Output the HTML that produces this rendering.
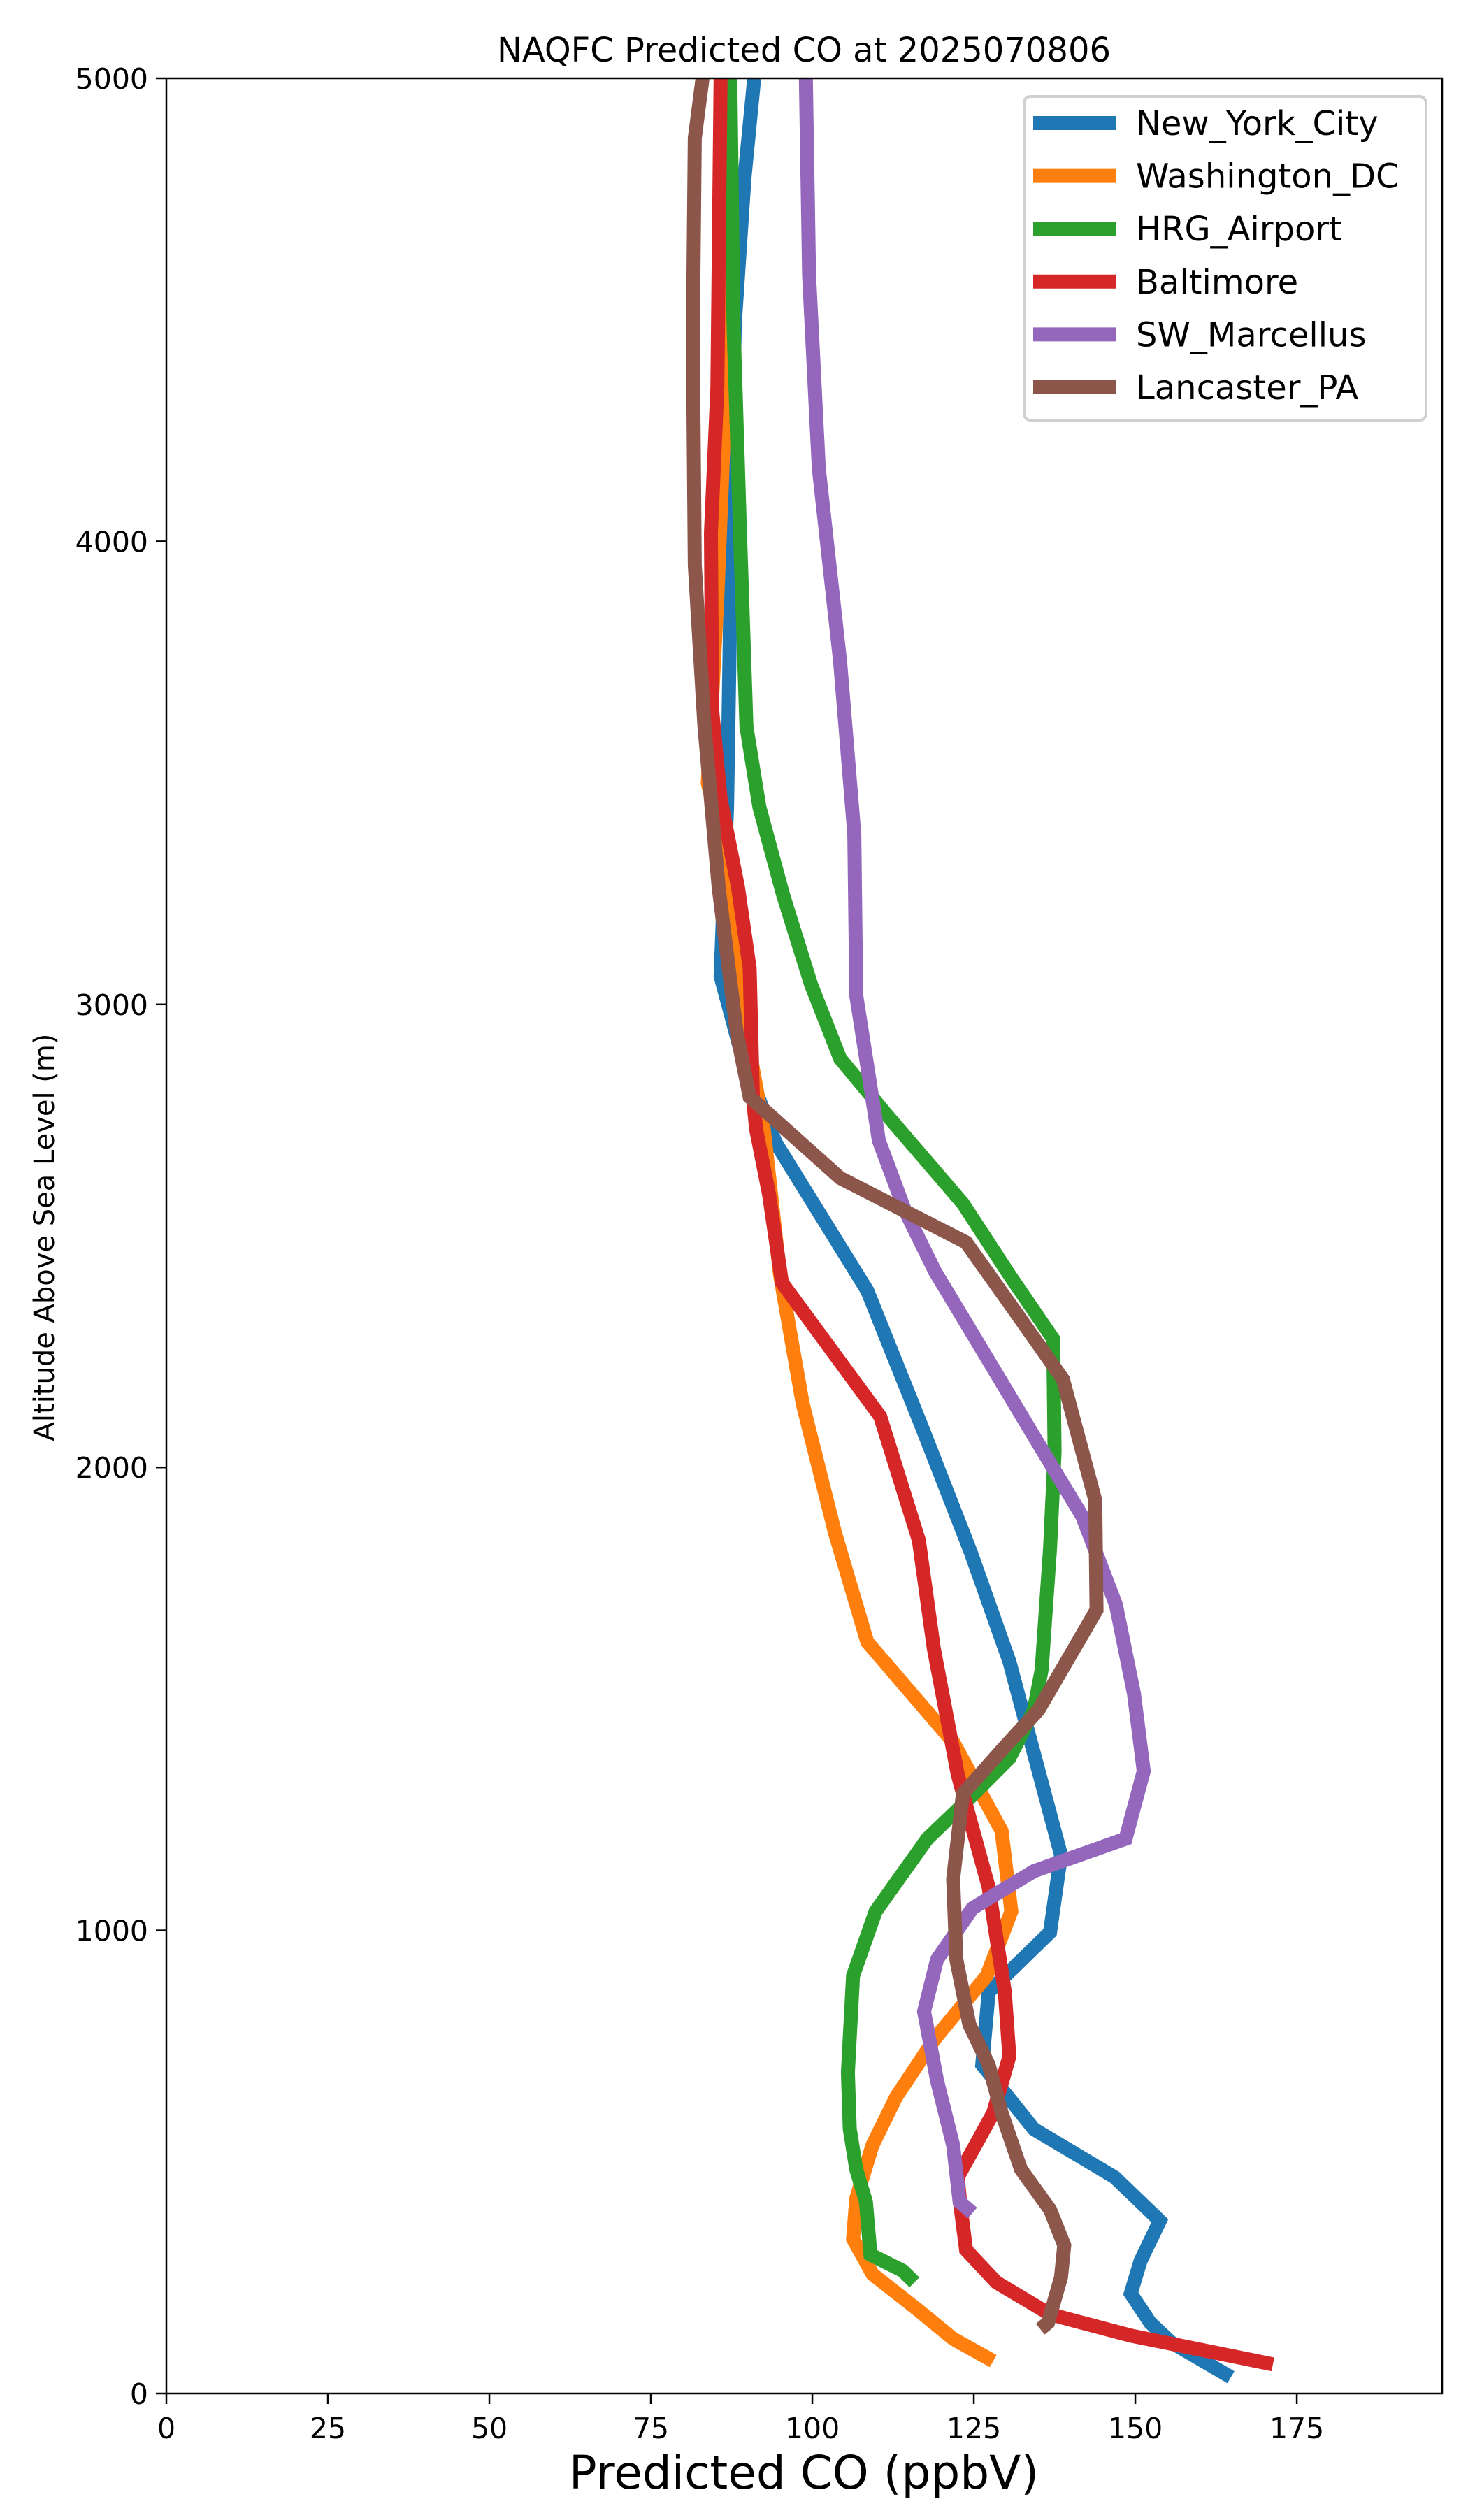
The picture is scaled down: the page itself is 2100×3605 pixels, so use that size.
<!DOCTYPE html>
<html><head><meta charset="utf-8">
<style>
html,body{margin:0;padding:0;background:#fff;}
svg text{font-family:"DejaVu Sans","Liberation Sans",sans-serif;fill:#000;}
</style></head>
<body>
<svg id="chart" width="2100" height="3600" viewBox="0 0 2100 3600" xmlns="http://www.w3.org/2000/svg">
<rect x="0" y="0" width="2100" height="3600" fill="#fff"/>
<text x="1150" y="88" font-size="48" text-anchor="middle">NAQFC Predicted CO at 2025070806</text>
<g id="plot"></g>
<text x="1150" y="3560" font-size="66" text-anchor="middle">Predicted CO (ppbV)</text>
<text x="0" y="0" font-size="40" text-anchor="middle" transform="translate(77,1770) rotate(-90)">Altitude Above Sea Level (m)</text>
</svg>
<script>
const seriesNames = ["New_York_City","Washington_DC","HRG_Airport","Baltimore","SW_Marcellus","Lancaster_PA"];
const seriesColors = ["#1f77b4","#ff7f0e","#2ca02c","#d62728","#9467bd","#8c564b"];
const xTicks = [0,25,50,75,100,125,150,175];
const yTicks = [0,1000,2000,3000,4000,5000];
const nycCO = [91,89.5,88,87.5,87.2,86.8,85.8,88.8,94.3,108.5,117,124.5,130.5,134.5,138.5,136.8,127.3,126.3,134.3,146.8,153.8,150.8,149.3,152.3,155.5,164.8];
const nycAlt = [5000,4785,4470,4123,3775,3426,3061,2904,2702,2382,2086,1818,1581,1372,1163,996,867,710,571,467,373,286,216,153,111,35];
const dcCO = [86.5,86.5,85.3,83.8,86,89.8,92.5,95,98.5,103.5,108.5,121.8,129.3,130.8,127,118.8,113,109.3,106.8,106.3,109.3,116.3,121.8,128];
const dcAlt = [5000,4297,3879,3478,3357,2939,2730,2416,2138,1859,1623,1407,1215,1041,902,763,641,536,421,334,258,181,118,70];
const hrgCO = [87.3,87.8,88.8,89.8,91.8,95.5,99.8,104.3,111.3,123.3,130.5,137.3,137.5,136.8,135.5,134.3,130.5,124.3,117.8,109.8,106.3,105.5,105.8,106.8,108.3,109,114,115.8];
const hrgAlt = [5000,4471,4018,3600,3426,3235,3043,2883,2765,2570,2416,2277,2033,1825,1563,1476,1372,1285,1198,1041,902,693,571,484,414,300,265,240];
const balCO = [85.8,85.3,84.3,84.5,85.8,88.5,90.3,90.8,91.3,93.3,95.3,110.5,116.5,118.8,122.5,127.3,129.8,130.5,128,122.5,123,123.8,128.5,136.8,149.3,171.3];
const balAlt = [5000,4332,4018,3635,3444,3252,3078,2800,2730,2590,2399,2110,1842,1609,1337,1093,867,728,606,467,397,310,240,171,125,63];
const swmCO = [99,99.5,101,104.3,106.5,106.8,110.3,114.3,119,126.8,135,141.8,147,149.8,151.3,148.5,134.3,124.8,119.3,117.3,119.3,121.8,122.8,124.8];
const swmAlt = [5000,4575,4158,3740,3367,3019,2706,2556,2423,2242,2051,1894,1703,1511,1344,1198,1128,1048,937,825,676,536,414,390];
const lanCO = [83,81.8,81.5,81.8,83.3,85.5,88.3,90.3,104.3,123.8,131.8,138.8,143.8,144,135,129.3,123.3,121.8,122.3,124.3,127.3,129.3,132.3,136.8,139,138.5,136.5,135.3];
const lanAlt = [5000,4871,4436,3949,3600,3252,2939,2800,2625,2486,2329,2190,1929,1692,1476,1389,1295,1111,937,797,710,606,484,397,320,251,153,139];
const seriesCO = [nycCO,dcCO,hrgCO,balCO,swmCO,lanCO];
const seriesAlt = [nycAlt,dcAlt,hrgAlt,balAlt,swmAlt,lanAlt];

const NS = "http://www.w3.org/2000/svg";
const L = 238, R = 2063, T = 112, B = 3424;
const XMAX = 197.5, YMAX = 5000;
function xs(v){ return L + v / XMAX * (R - L); }
function ys(v){ return B - v / YMAX * (B - T); }
const plot = document.getElementById('plot');
function mk(tag, attrs, parent){
  const e = document.createElementNS(NS, tag);
  for (const k in attrs) e.setAttribute(k, attrs[k]);
  (parent || plot).appendChild(e);
  return e;
}
seriesNames.forEach((name, i) => {
  const pts = seriesCO[i].map((v, j) => xs(v).toFixed(1) + ',' + ys(seriesAlt[i][j]).toFixed(1)).join(' ');
  const pl = mk('polyline', {points: pts, fill: 'none', stroke: seriesColors[i], 'stroke-width': 20, 'stroke-linejoin': 'miter', 'stroke-linecap': 'butt'});
  
  
});
const fr = mk('rect', {x: L, y: T, width: R - L, height: B - T, fill: 'none', stroke: '#000', 'stroke-width': 2.5});


xTicks.forEach(t => {
  const x = xs(t);
  const tk = mk('line', {x1: x, y1: B, x2: x, y2: B + 15, stroke: '#000', 'stroke-width': 2.5});
  
  
  const tx = mk('text', {x: x, y: B + 64, 'font-size': 41, 'text-anchor': 'middle'});
  tx.textContent = t;
  
  
});
yTicks.forEach(t => {
  const y = ys(t);
  const tk = mk('line', {x1: L - 15, y1: y, x2: L, y2: y, stroke: '#000', 'stroke-width': 2.5});
  
  
  const tx = mk('text', {x: L - 26, y: y + 15, 'font-size': 41, 'text-anchor': 'end'});
  tx.textContent = t;
  
  
});
const lg = mk('g', {});


const lb = mk('rect', {x: 1465, y: 138, width: 575, height: 463, rx: 9, fill: '#fff', 'fill-opacity': 0.8, stroke: '#d0d0d0', 'stroke-width': 4}, lg);


seriesNames.forEach((name, i) => {
  const y = 176 + i * 75.6;
  const g = mk('g', {}, lg);
  
  
  mk('line', {x1: 1478, y1: y, x2: 1597, y2: y, stroke: seriesColors[i], 'stroke-width': 20}, g);
  const tx = mk('text', {x: 1625, y: y + 17, 'font-size': 48}, g);
  tx.textContent = name;
});
</script>
</body></html>
